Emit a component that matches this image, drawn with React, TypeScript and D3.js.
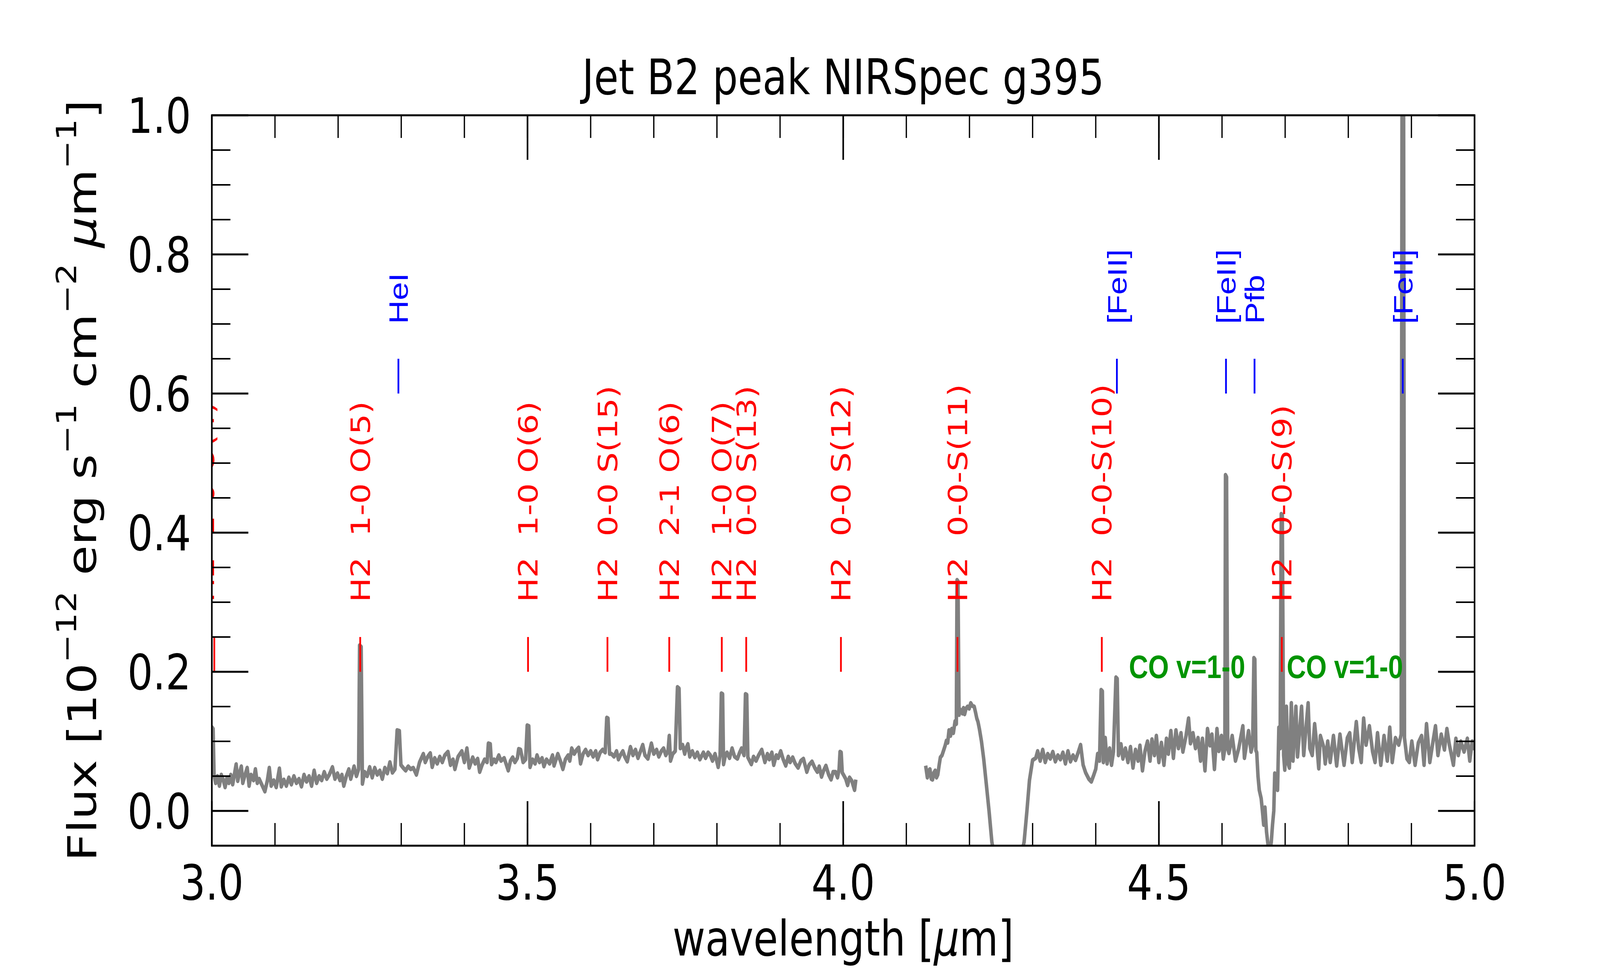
import { useEffect, useRef } from 'react';
import * as d3 from 'd3';

type Pt = [number, number];

// NIRSpec g395 spectrum, first detector (wavelength in micron, flux in 1e-12 erg/s/cm2/um)
const specNRS1: Pt[] = [
  [2.998, 0.118], [3.0005, 0.12], [3.002, 0.118], [3.0035, 0.052], [3.006, 0.04], [3.009, 0.05],
  [3.012, 0.036], [3.015, 0.052], [3.018, 0.045], [3.021, 0.034], [3.024, 0.048], [3.027, 0.04],
  [3.03, 0.052], [3.033, 0.038], [3.0385, 0.067], [3.041, 0.043], [3.044, 0.055], [3.0467, 0.064],
  [3.049, 0.04], [3.052, 0.05], [3.056, 0.062], [3.059, 0.036], [3.062, 0.052], [3.066, 0.044],
  [3.069, 0.06], [3.072, 0.04], [3.075, 0.046], [3.079, 0.038], [3.084, 0.028], [3.088, 0.044],
  [3.091, 0.062], [3.094, 0.036], [3.098, 0.044], [3.102, 0.034], [3.107, 0.061], [3.11, 0.035],
  [3.114, 0.045], [3.118, 0.036], [3.122, 0.048], [3.126, 0.038], [3.13, 0.05], [3.134, 0.04],
  [3.138, 0.046], [3.142, 0.035], [3.146, 0.052], [3.15, 0.042], [3.154, 0.05], [3.158, 0.036],
  [3.162, 0.058], [3.166, 0.04], [3.17, 0.05], [3.174, 0.044], [3.178, 0.056], [3.182, 0.046],
  [3.186, 0.052], [3.191, 0.063], [3.195, 0.046], [3.199, 0.054], [3.203, 0.044], [3.206, 0.052],
  [3.209, 0.036], [3.213, 0.05], [3.217, 0.06], [3.22, 0.046], [3.2253, 0.064], [3.229, 0.05],
  [3.2325, 0.06], [3.234, 0.238], [3.2365, 0.236], [3.2385, 0.039], [3.242, 0.056], [3.246, 0.05],
  [3.25, 0.063], [3.254, 0.048], [3.258, 0.062], [3.262, 0.052], [3.266, 0.058], [3.27, 0.046],
  [3.274, 0.062], [3.278, 0.054], [3.282, 0.07], [3.286, 0.055], [3.29, 0.06], [3.2935, 0.116],
  [3.297, 0.115], [3.2995, 0.066], [3.303, 0.062], [3.307, 0.058], [3.311, 0.064], [3.315, 0.06],
  [3.319, 0.062], [3.324, 0.052], [3.329, 0.07], [3.335, 0.082], [3.338, 0.07], [3.342, 0.078],
  [3.346, 0.083], [3.349, 0.063], [3.353, 0.076], [3.357, 0.068], [3.361, 0.078], [3.365, 0.07],
  [3.369, 0.08], [3.374, 0.085], [3.378, 0.066], [3.382, 0.074], [3.385, 0.06], [3.39, 0.078],
  [3.396, 0.086], [3.4, 0.07], [3.404, 0.09], [3.4077, 0.062], [3.4132, 0.077], [3.417, 0.068],
  [3.421, 0.075], [3.4242, 0.056], [3.428, 0.066], [3.432, 0.074], [3.436, 0.07], [3.438, 0.097],
  [3.441, 0.096], [3.443, 0.067], [3.447, 0.074], [3.45, 0.07], [3.4545, 0.08], [3.458, 0.072],
  [3.463, 0.076], [3.4695, 0.058], [3.473, 0.072], [3.4765, 0.077], [3.48, 0.07], [3.484, 0.076],
  [3.486, 0.089], [3.489, 0.088], [3.493, 0.07], [3.497, 0.074], [3.4995, 0.123], [3.502, 0.122],
  [3.504, 0.063], [3.508, 0.074], [3.512, 0.068], [3.515, 0.08], [3.519, 0.07], [3.523, 0.076],
  [3.526, 0.064], [3.53, 0.074], [3.535, 0.068], [3.5396, 0.08], [3.542, 0.065], [3.548, 0.082],
  [3.552, 0.072], [3.556, 0.06], [3.56, 0.074], [3.5643, 0.08], [3.567, 0.072], [3.57, 0.09],
  [3.574, 0.082], [3.578, 0.088], [3.581, 0.091], [3.584, 0.068], [3.588, 0.082], [3.592, 0.088],
  [3.596, 0.08], [3.6, 0.086], [3.604, 0.078], [3.608, 0.086], [3.611, 0.074], [3.615, 0.084],
  [3.619, 0.088], [3.623, 0.084], [3.6255, 0.134], [3.6275, 0.133], [3.63, 0.082], [3.633, 0.082],
  [3.637, 0.078], [3.641, 0.086], [3.644, 0.074], [3.647, 0.08], [3.651, 0.086], [3.654, 0.078],
  [3.658, 0.071], [3.663, 0.092], [3.667, 0.08], [3.671, 0.088], [3.675, 0.076], [3.679, 0.086],
  [3.6825, 0.095], [3.686, 0.08], [3.6907, 0.075], [3.6962, 0.097], [3.7, 0.082], [3.7044, 0.088],
  [3.708, 0.078], [3.712, 0.086], [3.7155, 0.09], [3.719, 0.08], [3.7225, 0.086], [3.7245, 0.108],
  [3.7265, 0.072], [3.73, 0.082], [3.734, 0.086], [3.7375, 0.178], [3.74, 0.176], [3.742, 0.09],
  [3.7456, 0.095], [3.749, 0.082], [3.751, 0.09], [3.754, 0.096], [3.757, 0.078], [3.761, 0.086],
  [3.765, 0.077], [3.769, 0.084], [3.773, 0.074], [3.7786, 0.084], [3.782, 0.076], [3.786, 0.084],
  [3.7896, 0.08], [3.793, 0.072], [3.797, 0.082], [3.802, 0.063], [3.805, 0.08], [3.807, 0.169],
  [3.809, 0.168], [3.8105, 0.067], [3.813, 0.078], [3.816, 0.084], [3.82, 0.076], [3.824, 0.09],
  [3.828, 0.078], [3.8325, 0.075], [3.836, 0.084], [3.839, 0.09], [3.843, 0.08], [3.8452, 0.168],
  [3.8472, 0.167], [3.849, 0.077], [3.8545, 0.067], [3.858, 0.078], [3.862, 0.072], [3.866, 0.08],
  [3.871, 0.088], [3.876, 0.07], [3.88, 0.082], [3.883, 0.074], [3.887, 0.084], [3.89, 0.066],
  [3.894, 0.08], [3.897, 0.076], [3.901, 0.086], [3.905, 0.074], [3.909, 0.065], [3.913, 0.078],
  [3.916, 0.07], [3.92, 0.077], [3.924, 0.068], [3.9286, 0.062], [3.933, 0.072], [3.937, 0.075],
  [3.9424, 0.056], [3.946, 0.066], [3.9506, 0.071], [3.955, 0.062], [3.959, 0.056], [3.962, 0.064],
  [3.9657, 0.049], [3.969, 0.058], [3.9726, 0.065], [3.977, 0.052], [3.9808, 0.045], [3.984, 0.056],
  [3.9877, 0.056], [3.991, 0.048], [3.9935, 0.06], [3.995, 0.085], [3.9968, 0.084], [3.9985, 0.055],
  [4.001, 0.051], [4.004, 0.046], [4.007, 0.037], [4.01, 0.048], [4.0138, 0.043], [4.016, 0.036],
  [4.018, 0.03], [4.02, 0.045],
];

// second detector
const specNRS2: Pt[] = [
  [4.1306, 0.065], [4.1333, 0.048], [4.1355, 0.058], [4.1374, 0.06], [4.1395, 0.046], [4.1415, 0.045],
  [4.1437, 0.055], [4.1457, 0.058], [4.1478, 0.048], [4.1498, 0.052], [4.152, 0.066], [4.1539, 0.077],
  [4.1565, 0.08], [4.1594, 0.088], [4.1615, 0.094], [4.1635, 0.101], [4.1655, 0.098], [4.1676, 0.116],
  [4.17, 0.108], [4.172, 0.118], [4.1745, 0.112], [4.1772, 0.129], [4.1792, 0.125], [4.1803, 0.332],
  [4.1818, 0.33], [4.1835, 0.138], [4.185, 0.146], [4.1868, 0.144], [4.189, 0.14], [4.1905, 0.148],
  [4.1923, 0.139], [4.1945, 0.147], [4.197, 0.15], [4.1995, 0.147], [4.202, 0.155], [4.2045, 0.151],
  [4.2075, 0.15], [4.21, 0.14], [4.2116, 0.133], [4.2135, 0.128], [4.2157, 0.118], [4.219, 0.1],
  [4.2225, 0.075], [4.2265, 0.04], [4.231, 0.0], [4.2355, -0.045], [4.245, -0.09], [4.265, -0.12],
  [4.28, -0.07], [4.2865, -0.045], [4.291, 0.0], [4.295, 0.044], [4.3, 0.073],
  [4.305, 0.076], [4.308, 0.086], [4.312, 0.072], [4.316, 0.088], [4.32, 0.07], [4.324, 0.082],
  [4.328, 0.075], [4.332, 0.085], [4.336, 0.071], [4.34, 0.08], [4.344, 0.074], [4.348, 0.084],
  [4.352, 0.068], [4.356, 0.086], [4.36, 0.071], [4.364, 0.08], [4.368, 0.073], [4.3725, 0.085],
  [4.376, 0.095], [4.38, 0.066], [4.384, 0.055], [4.389, 0.046], [4.393, 0.042], [4.397, 0.052],
  [4.4, 0.06], [4.403, 0.082], [4.406, 0.072], [4.4085, 0.174], [4.4105, 0.172], [4.412, 0.07],
  [4.415, 0.105], [4.418, 0.068], [4.422, 0.09], [4.425, 0.066], [4.428, 0.085], [4.432, 0.192],
  [4.434, 0.19], [4.436, 0.08], [4.44, 0.096], [4.443, 0.075], [4.447, 0.09], [4.451, 0.07],
  [4.455, 0.092], [4.459, 0.062], [4.463, 0.088], [4.467, 0.072], [4.47, 0.094], [4.474, 0.058],
  [4.478, 0.086], [4.482, 0.1], [4.486, 0.072], [4.489, 0.103], [4.493, 0.08], [4.496, 0.108],
  [4.5, 0.07], [4.504, 0.098], [4.508, 0.066], [4.512, 0.104], [4.515, 0.082], [4.519, 0.115],
  [4.523, 0.076], [4.527, 0.116], [4.531, 0.09], [4.535, 0.112], [4.538, 0.085], [4.543, 0.108],
  [4.547, 0.133], [4.55, 0.097], [4.554, 0.112], [4.558, 0.09], [4.562, 0.105], [4.566, 0.072],
  [4.569, 0.104], [4.573, 0.058], [4.577, 0.118], [4.581, 0.094], [4.584, 0.11], [4.588, 0.06],
  [4.592, 0.118], [4.595, 0.086], [4.599, 0.108], [4.602, 0.075], [4.6045, 0.09], [4.6055, 0.483],
  [4.6072, 0.48], [4.609, 0.09], [4.611, 0.083], [4.6161, 0.108], [4.6213, 0.072], [4.6265, 0.09],
  [4.633, 0.122], [4.6355, 0.076], [4.642, 0.115], [4.646, 0.085], [4.6485, 0.095], [4.6505, 0.22],
  [4.652, 0.218], [4.6536, 0.087], [4.655, 0.084], [4.657, 0.05], [4.659, 0.03], [4.662, 0.018],
  [4.664, 0.0], [4.666, -0.02], [4.668, 0.005], [4.6705, -0.03], [4.673, -0.05], [4.6755, -0.06],
  [4.678, -0.045], [4.68, -0.02], [4.682, 0.0], [4.6835, 0.054], [4.686, 0.035], [4.688, 0.03],
  [4.69, 0.12], [4.692, 0.09], [4.6938, 0.427], [4.6955, 0.425], [4.6976, 0.08], [4.6994, 0.059],
  [4.702, 0.15], [4.704, 0.07], [4.7067, 0.062], [4.7098, 0.155], [4.7124, 0.072], [4.717, 0.15],
  [4.7196, 0.078], [4.726, 0.15], [4.7294, 0.08], [4.7364, 0.155], [4.739, 0.09], [4.7429, 0.08],
  [4.7467, 0.125], [4.7506, 0.09], [4.7532, 0.061], [4.7558, 0.108], [4.761, 0.092], [4.7635, 0.068],
  [4.7674, 0.1], [4.7713, 0.07], [4.7765, 0.108], [4.7816, 0.065], [4.7868, 0.11], [4.7933, 0.066],
  [4.7985, 0.105], [4.8023, 0.112], [4.8062, 0.07], [4.8127, 0.128], [4.8165, 0.09], [4.8205, 0.07],
  [4.8243, 0.133], [4.8282, 0.095], [4.8334, 0.122], [4.8385, 0.085], [4.8424, 0.07], [4.8463, 0.112],
  [4.8515, 0.066], [4.8566, 0.108], [4.8618, 0.072], [4.8657, 0.12], [4.8696, 0.07], [4.8747, 0.105],
  [4.8799, 0.095], [4.8838, 0.11], [4.8855, 1.3], [4.8872, 1.3], [4.889, 0.105], [4.8929, 0.075],
  [4.8967, 0.07], [4.9006, 0.1], [4.9058, 0.066], [4.911, 0.098], [4.9161, 0.108], [4.92, 0.066],
  [4.9239, 0.125], [4.9291, 0.07], [4.9342, 0.1], [4.9381, 0.122], [4.942, 0.08], [4.9472, 0.11],
  [4.9523, 0.088], [4.9562, 0.118], [4.9601, 0.095], [4.9665, 0.066], [4.9704, 0.104], [4.9743, 0.08],
  [4.9782, 0.1], [4.9834, 0.085], [4.9886, 0.104], [4.9924, 0.072], [4.9963, 0.1], [4.9989, 0.09],
  [5.002, 0.098],
];

// molecular hydrogen lines (red)
const h2Lines = [
  { wave: 3.0039, textWave: 2.9885, label: 'H2  1-0 O(4)' },
  { wave: 3.235, textWave: 3.235, label: 'H2  1-0 O(5)' },
  { wave: 3.5008, textWave: 3.5008, label: 'H2  1-0 O(6)' },
  { wave: 3.6266, textWave: 3.6266, label: 'H2  0-0 S(15)' },
  { wave: 3.7245, textWave: 3.7245, label: 'H2  2-1 O(6)' },
  { wave: 3.8077, textWave: 3.8077, label: 'H2  1-0 O(7)' },
  { wave: 3.8464, textWave: 3.8464, label: 'H2  0-0 S(13)' },
  { wave: 3.9964, textWave: 3.9964, label: 'H2  0-0 S(12)' },
  { wave: 4.181, textWave: 4.181, label: 'H2  0-0-S(11)' },
  { wave: 4.4096, textWave: 4.4096, label: 'H2  0-0-S(10)' },
  { wave: 4.6947, textWave: 4.6947, label: 'H2  0-0-S(9)' },
];

// atomic lines (blue)
const atomicLines = [
  { wave: 3.2955, label: 'HeI' },
  { wave: 4.4335, label: '[FeII]' },
  { wave: 4.6063, label: '[FeII]' },
  { wave: 4.6515, label: 'Pfb' },
  { wave: 4.8863, label: '[FeII]' },
];

const coLabelWaves = [4.4525, 4.7025];
const coLabel = 'CO v=1-0';

const xMajorTicks = [3.0, 3.5, 4.0, 4.5, 5.0];
const yMajorTicks = [0.0, 0.2, 0.4, 0.6, 0.8, 1.0];

const titleText = 'Jet B2 peak NIRSpec g395';

export default function App() {
  const svgRef = useRef<SVGSVGElement>(null);

  useEffect(() => {
    if (!svgRef.current) return;
    const svg = d3.select(svgRef.current);
    svg.selectAll('*').remove();

    // figure is laid out on a 5000x2500 canvas and stretched onto the window
    const width = 5000;
    const height = 2500;
    const left = 662;
    const right = 4608;
    const top = 295;
    const bottom = 2164;
    const font = 'DejaVu Sans, sans-serif';
    const sans = 'Liberation Sans, Arial, sans-serif';

    svg.attr('viewBox', `0 0 ${width} ${height}`)
      .attr('preserveAspectRatio', 'none');
    svg.append('rect').attr('width', width).attr('height', height).attr('fill', '#ffffff');

    const x = d3.scaleLinear().domain([3.0, 5.0]).range([left, right]);
    const y = d3.scaleLinear().domain([-0.05, 1.0]).range([bottom, top]);

    svg.append('defs').append('clipPath').attr('id', 'plotclip')
      .append('rect')
      .attr('x', left).attr('y', top)
      .attr('width', right - left).attr('height', bottom - top);

    const plot = svg.append('g').attr('clip-path', 'url(#plotclip)');

    // Spectrum
    const line = d3.line<Pt>().x((d) => x(d[0])).y((d) => y(d[1]));
    [specNRS1, specNRS2].forEach((seg) => {
      plot.append('path')
        .attr('d', line(seg))
        .attr('fill', 'none')
        .attr('stroke', '#808080')
        .attr('stroke-width', 11)
        .attr('stroke-linejoin', 'round');
    });

    // H2 markers and labels
    h2Lines.forEach((l) => {
      plot.append('line')
        .attr('x1', x(l.wave)).attr('x2', x(l.wave))
        .attr('y1', y(0.2)).attr('y2', y(0.25))
        .attr('stroke', '#ff0000')
        .attr('stroke-width', 5.5);
      plot.append('text')
        .attr('transform', `translate(${x(l.textWave) + 30},${y(0.3)}) rotate(-90)`)
        .attr('xml:space', 'preserve')
        .style('white-space', 'pre')
        .attr('fill', '#ff0000')
        .attr('font-family', font)
        .attr('font-size', 83.3)
        .text(l.label);
    });

    // Atomic lines
    atomicLines.forEach((l) => {
      plot.append('line')
        .attr('x1', x(l.wave)).attr('x2', x(l.wave))
        .attr('y1', y(0.6)).attr('y2', y(0.65))
        .attr('stroke', '#0000ff')
        .attr('stroke-width', 5.5);
      plot.append('text')
        .attr('transform', `translate(${x(l.wave) + 30},${y(0.7)}) rotate(-90)`)
        .attr('fill', '#0000ff')
        .attr('font-family', sans)
        .attr('font-size', 84)
        .text(l.label);
    });

    // CO band labels
    coLabelWaves.forEach((w) => {
      plot.append('text')
        .attr('x', x(w))
        .attr('y', y(0.191))
        .attr('fill', '#009400')
        .attr('font-family', sans)
        .attr('font-weight', 'bold')
        .attr('font-size', 83.3)
        .text(coLabel);
    });

    // Ticks (inward, all four sides)
    const axes = svg.append('g').attr('stroke', '#000000');
    const majorLen = 114;
    const minorLen = 58;

    x.ticks(20).forEach((t) => {
      const px = x(t);
      axes.append('line').attr('x1', px).attr('x2', px).attr('y1', bottom).attr('y2', bottom - minorLen).attr('stroke-width', 4);
      axes.append('line').attr('x1', px).attr('x2', px).attr('y1', top).attr('y2', top + minorLen).attr('stroke-width', 4);
    });
    xMajorTicks.forEach((t) => {
      const px = x(t);
      axes.append('line').attr('x1', px).attr('x2', px).attr('y1', bottom).attr('y2', bottom - majorLen).attr('stroke-width', 5);
      axes.append('line').attr('x1', px).attr('x2', px).attr('y1', top).attr('y2', top + majorLen).attr('stroke-width', 5);
    });
    y.ticks(21).forEach((t) => {
      const py = y(t);
      axes.append('line').attr('x1', left).attr('x2', left + minorLen).attr('y1', py).attr('y2', py).attr('stroke-width', 4);
      axes.append('line').attr('x1', right).attr('x2', right - minorLen).attr('y1', py).attr('y2', py).attr('stroke-width', 4);
    });
    yMajorTicks.forEach((t) => {
      const py = y(t);
      axes.append('line').attr('x1', left).attr('x2', left + majorLen).attr('y1', py).attr('y2', py).attr('stroke-width', 5);
      axes.append('line').attr('x1', right).attr('x2', right - majorLen).attr('y1', py).attr('y2', py).attr('stroke-width', 5);
    });

    axes.append('rect')
      .attr('x', left).attr('y', top)
      .attr('width', right - left).attr('height', bottom - top)
      .attr('fill', 'none')
      .attr('stroke-width', 5);

    const fmt = d3.format('.1f');

    // Tick labels
    xMajorTicks.forEach((t) => {
      svg.append('text')
        .attr('x', x(t)).attr('y', 2302)
        .attr('text-anchor', 'middle')
        .attr('font-family', font).attr('font-size', 125)
        .text(fmt(t));
    });
    yMajorTicks.forEach((t) => {
      svg.append('text')
        .attr('x', 597).attr('y', y(t) + 45.5)
        .attr('text-anchor', 'end')
        .attr('font-family', font).attr('font-size', 125)
        .text(fmt(t));
    });

    // Title
    svg.append('text')
      .attr('x', (left + right) / 2).attr('y', 241)
      .attr('text-anchor', 'middle')
      .attr('font-family', font).attr('font-size', 125)
      .text(titleText);

    // X label
    const xl = svg.append('text')
      .attr('x', (left + right) / 2).attr('y', 2445)
      .attr('text-anchor', 'middle')
      .attr('font-family', font).attr('font-size', 125);
    xl.append('tspan').text('wavelength [');
    xl.append('tspan').attr('font-style', 'italic').text('\u03bc');
    xl.append('tspan').text('m]');

    // Y label with superscripts
    const yl = svg.append('text')
      .attr('transform', `translate(300,${(top + bottom) / 2}) rotate(-90)`)
      .attr('text-anchor', 'middle')
      .attr('xml:space', 'preserve')
      .style('white-space', 'pre')
      .attr('font-family', font).attr('font-size', 125);
    const parts: { t: string; sup?: boolean; it?: boolean }[] = [
      { t: 'Flux [10' },
      { t: '\u221212', sup: true },
      { t: ' erg s' },
      { t: '\u22121', sup: true },
      { t: ' cm' },
      { t: '\u22122', sup: true },
      { t: ' ' },
      { t: '\u03bc', it: true },
      { t: 'm' },
      { t: '\u22121', sup: true },
      { t: ']' },
    ];
    const shift = 62;
    let raised = false;
    parts.forEach((p) => {
      const ts = yl.append('tspan').text(p.t);
      if (p.sup && !raised) { ts.attr('dy', -shift); raised = true; }
      if (!p.sup && raised) { ts.attr('dy', shift); raised = false; }
      if (p.sup) ts.attr('font-size', 87.5);
      if (p.it) ts.attr('font-style', 'italic');
    });
  }, []);

  return (
    <div style={{ position: 'fixed', left: 0, top: 0, width: '100vw', height: '100vh', overflow: 'hidden' }}>
      <svg ref={svgRef} style={{ display: 'block', width: '100%', height: '100%' }} />
    </div>
  );
}
